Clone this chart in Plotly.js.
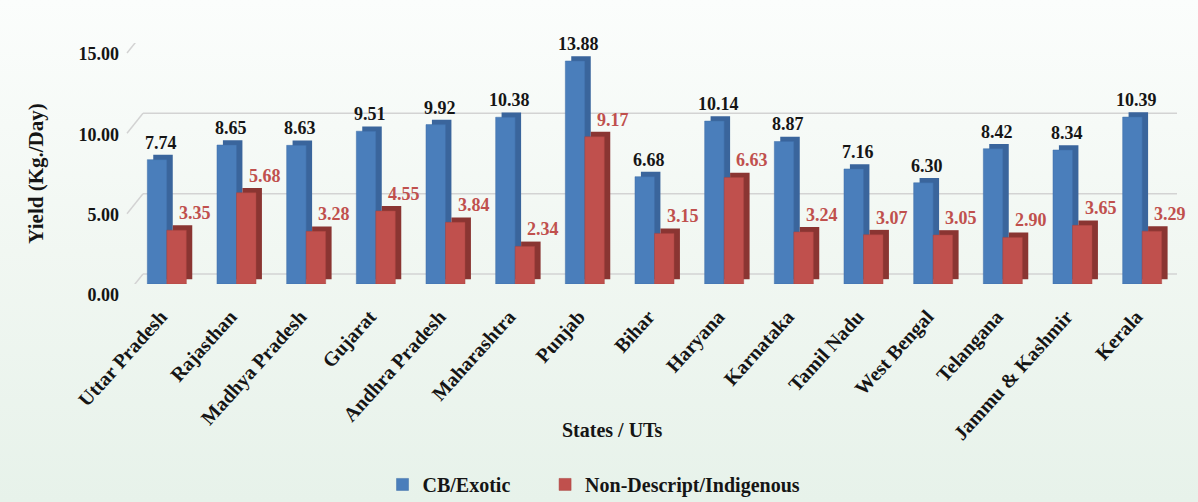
<!DOCTYPE html>
<html>
<head>
<meta charset="utf-8">
<script src="https://cdn.plot.ly/plotly-3.0.1.min.js"></script>
<style>
html,body{margin:0;padding:0;}
body{width:1198px;height:502px;background:linear-gradient(to bottom,#fbfdfc 0%,#f1f7f2 50%,#e7f2ea 100%);}
#chart{width:1198px;height:502px;}
</style>
</head>
<body>
<div id="chart"></div>
<script>
const states = ["Uttar Pradesh","Rajasthan","Madhya Pradesh","Gujarat","Andhra Pradesh","Maharashtra","Punjab","Bihar","Haryana","Karnataka","Tamil Nadu","West Bengal","Telangana","Jammu & Kashmir","Kerala"];
const cbExotic = [7.74,8.65,8.63,9.51,9.92,10.38,13.88,6.68,10.14,8.87,7.16,6.30,8.42,8.34,10.39];
const indigenous = [3.35,5.68,3.28,4.55,3.84,2.34,9.17,3.15,6.63,3.24,3.07,3.05,2.90,3.65,3.29];
const seriesNames = ["CB/Exotic","Non-Descript/Indigenous"];
const yTicks = [0,5,10,15];
const xTitle = "States / UTs";
const yTitle = "Yield (Kg./Day)";

const serif = "'Liberation Serif', 'DejaVu Serif', serif";
const blue = "#4a7ebb", blueSide = "#3a659c";
const red = "#c0504d", redSide = "#8a3532";
const W = 0.28;          // bar width (category units)
const DX = 0.085, DY = 0.3; // 3D depth offsets

const traces = [
  {type:"bar", x:states, y:cbExotic, base:DY, width:W, offset:-W+DX, marker:{color:blueSide, line:{width:0}}, showlegend:false, hoverinfo:"skip"},
  {type:"bar", name:seriesNames[0], x:states, y:cbExotic, width:W, offset:-W, marker:{color:blue, line:{color:"#3f6fa8", width:0.5}}, hoverinfo:"x+y", legend:"legend"},
  {type:"bar", x:states, y:indigenous, base:DY, width:W, offset:DX, marker:{color:redSide, line:{width:0}}, showlegend:false, hoverinfo:"skip"},
  {type:"bar", name:seriesNames[1], x:states, y:indigenous, width:W, offset:0, marker:{color:red, line:{color:"#a84441", width:0.5}}, hoverinfo:"x+y", legend:"legend2"}
];

const annotations = [];
states.forEach((s,i)=>{
  annotations.push({x:s, y:cbExotic[i], xref:"x", yref:"y", text:cbExotic[i].toFixed(2), showarrow:false,
    xshift:-6, yshift:5, yanchor:"bottom", font:{family:serif, size:18, color:"#151515", weight:600}});
  annotations.push({x:s, y:indigenous[i], xref:"x", yref:"y", text:indigenous[i].toFixed(2), showarrow:false,
    xshift:28, yshift:5, yanchor:"bottom", font:{family:serif, size:18, color:red, weight:"bold"}});
});
annotations.push({xref:"paper", yref:"paper", x:0.46, y:-0.6046, xanchor:"center", yanchor:"middle", showarrow:false,
  text:xTitle, font:{family:serif, size:20, color:"#151515", weight:"bold"}});
annotations.push({xref:"paper", yref:"paper", x:-0.0914, y:0.46, xanchor:"center", yanchor:"middle", showarrow:false,
  textangle:-90, text:yTitle, font:{family:serif, size:21, color:"#151515", weight:"bold"}});

// back-wall gridlines (raised a few pixels for the 3D look) with their diagonal floor edges
const shapes = [];
yTicks.forEach(v=>{
  shapes.push({type:"line", xref:"paper", x0:0.0105, x1:1, yref:"y", ysizemode:"pixel", yanchor:v, y0:10, y1:10,
    line:{color:"#d3d3d3", width:1.5}, layer:"below"});
  shapes.push({type:"line", xref:"paper", xsizemode:"pixel", xanchor:0, x0:-5, x1:11, yref:"y", ysizemode:"pixel", yanchor:v, y0:-10, y1:10,
    line:{color:"#d3d3d3", width:1.5}, layer:"below"});
});

const legendFont = {family:serif, size:20, color:"#151515", weight:600};

const layout = {
  width:1198, height:502,
  paper_bgcolor:"rgba(0,0,0,0)", plot_bgcolor:"rgba(0,0,0,0)",
  margin:{l:132, r:21, t:43, b:218, autoexpand:false},
  barmode:"overlay",
  font:{family:serif, color:"#151515"},
  xaxis:{
    type:"category", tickangle:-48, showgrid:false, zeroline:false, showline:false, ticks:"", automargin:false,
    ticklabelshift:-6, ticklabelstandoff:16, range:[-0.5,14.5],
    tickfont:{family:serif, size:20, color:"#151515", weight:"bold"}
  },
  yaxis:{
    range:[0,15], tickvals:yTicks, tickformat:".2f", automargin:false,
    showgrid:false, zeroline:false, showline:false, ticks:"", ticklabelstandoff:12, ticklabelshift:11,
    tickfont:{family:serif, size:18, color:"#151515", weight:"bold"}
  },
  legend:{orientation:"h", xref:"container", yref:"container", x:0.3193, xanchor:"left", y:0.035, yanchor:"middle",
    font:legendFont, bgcolor:"rgba(0,0,0,0)", itemwidth:30},
  legend2:{orientation:"h", xref:"container", yref:"container", x:0.455, xanchor:"left", y:0.035, yanchor:"middle",
    font:legendFont, bgcolor:"rgba(0,0,0,0)", itemwidth:30},
  annotations:annotations,
  shapes:shapes,
  showlegend:true
};

Plotly.newPlot("chart", traces, layout, {displayModeBar:false, staticPlot:true});
</script>
</body>
</html>
